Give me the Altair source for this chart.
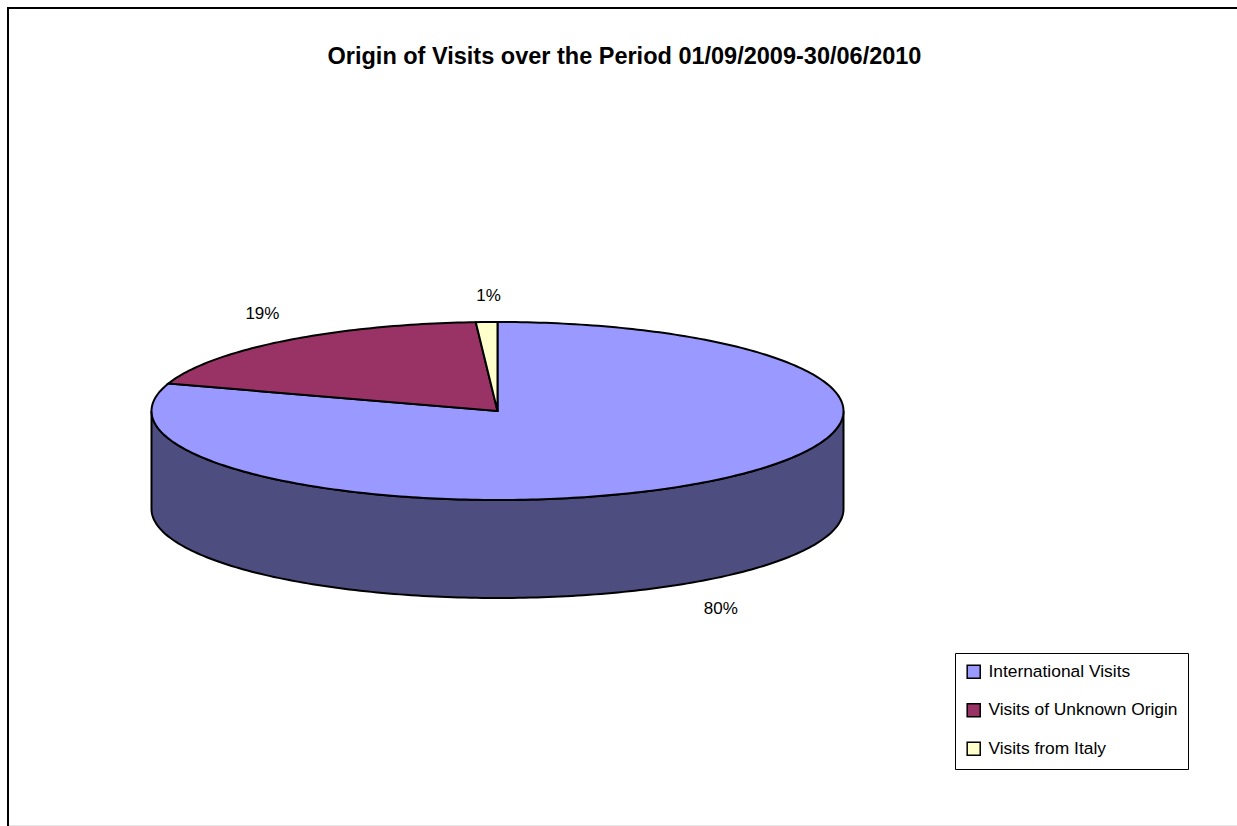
import math
import altair as alt

TITLE = "Origin of Visits over the Period 01/09/2009-30/06/2010"
categories = ["International Visits", "Visits of Unknown Origin", "Visits from Italy"]
shares = [80, 19, 1]
fills = ["#9999FF", "#993366", "#FFFFCC"]
wall_fill = "#4D4D80"
# nudges of each percentage label away from its rim point, in pixels
label_nudges = [(20, 28), (-23, -27), (2, -26)]

# Pie proportions: squash of the top face and wall height, relative to the radius
SQUASH = 89 / 346
DEPTH = 98 / 346
pie_projection = dict(type="identity", reflectY=True, scale=346, translate=[497.5, 411])


def rim(angle, drop=0.0):
    """Point on the pie's rim, angle in degrees clockwise from 12 o'clock."""
    a = math.radians(angle)
    return [math.sin(a), SQUASH * math.cos(a) - drop]


def arc(start, end, drop=0.0):
    steps = max(2, int(abs(end - start)) + 1)
    return [rim(start + (end - start) * i / steps, drop) for i in range(steps + 1)]


slices = []
walls = []
labels = []
angle = 0.0
for name, share, (dx, dy) in zip(categories, shares, label_nudges):
    end = angle + share * 3.6
    ring = [[0.0, 0.0]] + arc(angle, end) + [[0.0, 0.0]]
    slices.append({
        "type": "Feature",
        "properties": {"name": name},
        "geometry": {"type": "Polygon", "coordinates": [ring]},
    })
    # only the part of a slice on the near half of the pie shows a wall
    near_start, near_end = max(angle, 90.0), min(end, 270.0)
    if near_start < near_end:
        top = arc(near_start, near_end)
        bottom = arc(near_end, near_start, DEPTH)
        walls.append({
            "type": "Feature",
            "properties": {"name": name},
            "geometry": {"type": "Polygon", "coordinates": [top + bottom + [top[0]]]},
        })
    mid = (angle + end) / 2
    drop = DEPTH if 90 < mid < 270 else 0.0
    lon, lat = rim(mid, drop)
    labels.append({"lon": lon, "lat": lat, "text": f"{share}%", "dx": dx, "dy": dy})
    angle = end

wall_layer = (
    alt.Chart(alt.Data(values=walls))
    .mark_geoshape(filled=True, fill=wall_fill, stroke="black", strokeWidth=2)
    .project(**pie_projection)
)

slice_layer = (
    alt.Chart(alt.Data(values=slices))
    .mark_geoshape(filled=True, stroke="black", strokeWidth=2)
    .encode(
        color=alt.Color(
            "properties.name:N",
            scale=alt.Scale(domain=categories, range=fills),
            legend=alt.Legend(
                title=None,
                orient="none",
                legendX=955,
                legendY=653,
                fillColor="white",
                strokeColor="black",
                padding=10,
                symbolType="square",
                symbolSize=170,
                symbolStrokeColor="black",
                symbolStrokeWidth=1.5,
                symbolOpacity=1,
                labelFont="Liberation Sans",
                labelFontSize=17.4,
                labelColor="black",
                labelLimit=300,
                labelOffset=6,
                rowPadding=18.5,
            ),
        )
    )
    .project(**pie_projection)
)

label_layers = [
    alt.Chart(alt.Data(values=[row]))
    .mark_text(
        font="Liberation Sans", fontSize=17, color="black",
        dx=row["dx"], dy=row["dy"],
    )
    .encode(
        longitude="lon:Q",
        latitude="lat:Q",
        text="text:N",
    )
    .project(**pie_projection)
    for row in labels
]

# Chart-area frame: dark on the top and left, faint along the bottom
frame_top = alt.Chart(alt.Data(values=[{"k": 0}])).mark_rule(color="black", strokeWidth=2).encode(
    x=alt.value(7), x2=alt.value(1237), y=alt.value(8)
)
frame_left = alt.Chart(alt.Data(values=[{"k": 0}])).mark_rule(color="black", strokeWidth=2).encode(
    x=alt.value(8), y=alt.value(7), y2=alt.value(826)
)
frame_bottom = alt.Chart(alt.Data(values=[{"k": 0}])).mark_rule(color="#E6E6E6", strokeWidth=1).encode(
    x=alt.value(9), x2=alt.value(1237), y=alt.value(825.5)
)

chart = (
    alt.layer(wall_layer, slice_layer, *label_layers, frame_top, frame_left, frame_bottom)
    .properties(
        width=1237,
        height=826,
        padding=0,
        autosize=alt.AutoSizeParams(type="none"),
        background="white",
        title=alt.TitleParams(
            text=TITLE,
            font="Liberation Sans",
            fontSize=23.5,
            fontWeight="bold",
            color="black",
            anchor="middle",
            dx=6,
            offset=-68,
        ),
    )
    .configure_view(stroke=None)
)

chart.save("out.html", embed_options={"renderer": "svg", "actions": False})
